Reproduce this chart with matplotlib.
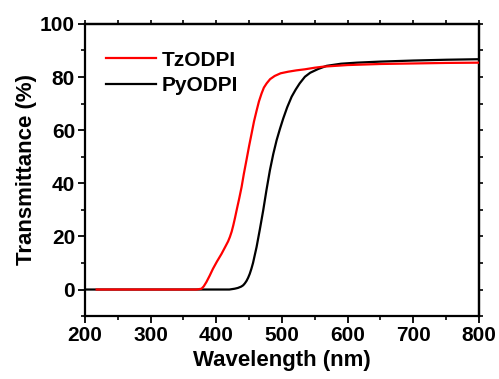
import matplotlib
matplotlib.use("Agg")
import matplotlib.pyplot as plt
from matplotlib.ticker import MultipleLocator

plt.rcParams["font.family"] = ["Liberation Sans", "DejaVu Sans"]
plt.rcParams["font.weight"] = "bold"

# TzODPI (red)
tz_wl = [218, 300, 370, 377.6, 381, 385, 390, 395, 401, 408, 414, 418, 420.8,
         423.5, 426, 428.5, 431, 435, 438.6, 442, 446, 450, 453.8, 457.5, 461.4,
         465, 469, 472.5, 476.7, 482, 489, 498, 509.6, 522, 535, 550, 563, 600,
         650, 700, 750, 800]
tz_t = [0, 0, 0, 0.3, 1.2, 2.8, 5.2, 7.8, 10.5, 13.4, 16.2, 18.1, 19.8,
        21.8, 24.2, 26.9, 29.8, 34.3, 38.6, 43.5, 48.7, 54, 58.7, 63.3, 67.3,
        70.8, 73.8, 76, 77.6, 79.2, 80.4, 81.4, 82, 82.5, 82.9, 83.5, 83.9, 84.5,
        84.9, 85.1, 85.3, 85.4]

# PyODPI (black)
py_wl = [200, 300, 420, 428, 433, 438, 441, 443.5, 446, 448.5, 451, 453.5, 456,
         461.4, 466.5, 471.5, 476.5, 481.7, 486.8, 491.9, 497, 502, 508, 514.8,
         521, 527, 535, 543, 555, 568, 590, 614, 650, 700, 750, 800]
py_t = [0, 0, 0, 0.3, 0.6, 1.1, 1.6, 2.3, 3.2, 4.4, 5.9, 7.8, 10,
        16, 22.8, 29.8, 37.5, 44.9, 51, 56.2, 60.5, 64.4, 68.6, 72.6,
        75.3, 77.6, 80.1, 81.6, 83, 84.2, 85, 85.4, 85.8, 86.2, 86.5, 86.7]

fig = plt.figure(figsize=(4.99, 3.79), dpi=100)
ax = fig.add_axes([0.170, 0.166, 0.790, 0.771])

ax.plot(tz_wl, tz_t, color="red", lw=1.6, label="TzODPI", zorder=3)
ax.plot(py_wl, py_t, color="black", lw=1.6, label="PyODPI", zorder=2)

ax.set_xlim(200, 800)
ax.set_ylim(-10, 100)
ax.xaxis.set_major_locator(MultipleLocator(100))
ax.xaxis.set_minor_locator(MultipleLocator(50))
ax.set_yticks([0, 20, 40, 60, 80, 100])
ax.yaxis.set_minor_locator(MultipleLocator(10))

for s in ax.spines.values():
    s.set_linewidth(1.6)

ax.tick_params(which="major", direction="out", length=5, width=1.3,
               labelsize=15, pad=2)
ax.tick_params(which="minor", direction="out", length=3, width=1.2)

# top and right: short ticks every 50 / 10, no labels
sec_x = ax.secondary_xaxis("top")
sec_x.set_xticks(range(200, 801, 50))
sec_x.tick_params(direction="out", length=3, width=1.2, labeltop=False)
sec_x.spines["top"].set_linewidth(1.6)
sec_y = ax.secondary_yaxis("right")
sec_y.set_yticks(range(-10, 101, 10))
sec_y.tick_params(direction="out", length=3, width=1.2, labelright=False)
sec_y.spines["right"].set_linewidth(1.6)

ax.set_xlabel("Wavelength (nm)", fontsize=16, fontweight="bold", labelpad=4)
ax.set_ylabel("Transmittance (%)", fontsize=16, fontweight="bold", labelpad=2)

ax.legend(loc="upper left", bbox_to_anchor=(0.0, 0.98), frameon=False,
          fontsize=15, handlelength=2.4, handletextpad=0.3, labelspacing=0.3,
          borderaxespad=0.6)

fig.savefig("out.png", dpi=100)
